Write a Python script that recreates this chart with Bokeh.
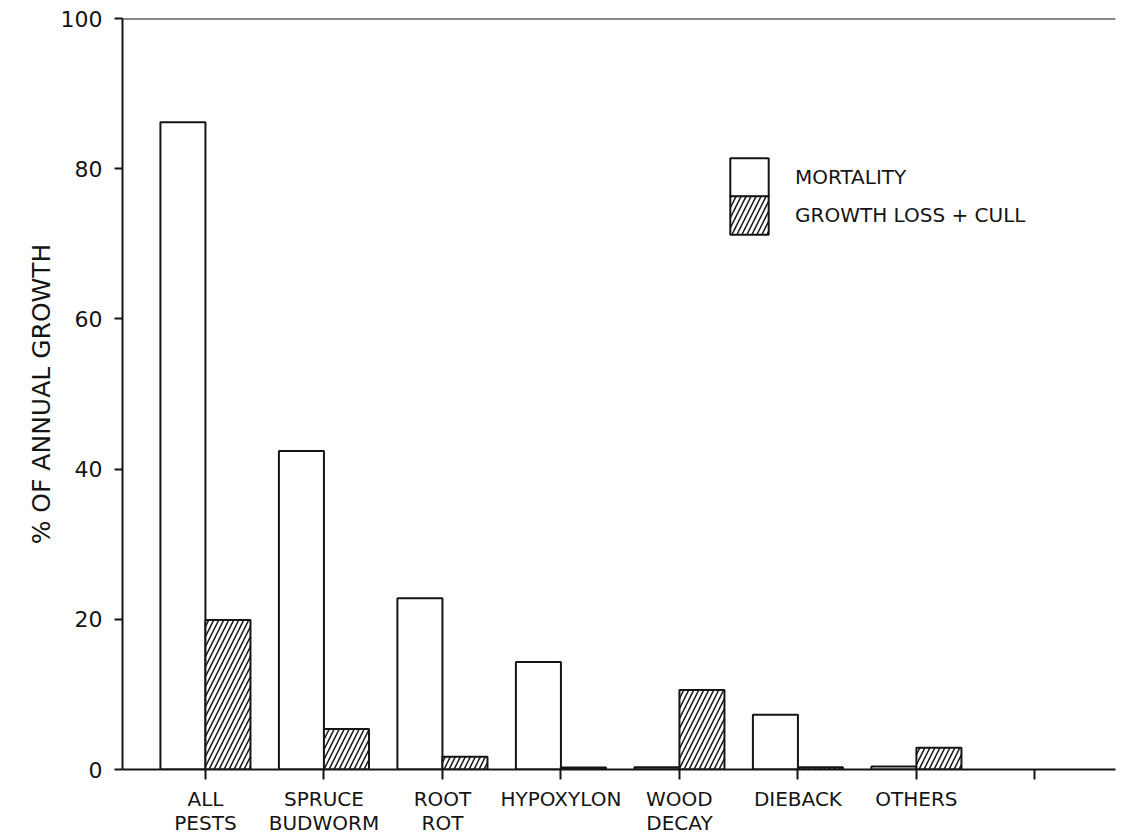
from bokeh.plotting import figure
from bokeh.models import (Range1d, FixedTicker, Span, Legend, LegendItem, ColumnDataSource)
from bokeh.transform import dodge
from bokeh.embed import file_html
from bokeh.resources import INLINE

categories = ["ALL\nPESTS", "SPRUCE\nBUDWORM", "ROOT\nROT", "HYPOXYLON", "WOOD\nDECAY", "DIEBACK", "OTHERS"]
mortality = [86.2, 42.4, 22.8, 14.3, 0.3, 7.3, 0.4]
growth_loss = [19.9, 5.4, 1.7, 0.25, 10.6, 0.3, 2.9]
y_ticks = [0, 20, 40, 60, 80, 100]
series_labels = ["MORTALITY", "GROWTH LOSS + CULL"]

FONT = "DejaVu Sans"
INK = "#151515"

src = ColumnDataSource(dict(x=list(range(len(categories))), cat=categories,
                            mort=mortality, grow=growth_loss))

p = figure(width=1122, height=837, x_range=Range1d(-0.70, 7.68), y_range=Range1d(0, 100),
           min_border_left=122, min_border_right=7, min_border_top=18, min_border_bottom=65,
           output_backend="svg", toolbar_location=None)
p.grid.visible = False
p.outline_line_color = None
p.background_fill_color = "white"

bw = 0.38
r1 = p.vbar(x=dodge("x", -bw / 2), top="mort", bottom=0, width=bw, source=src,
            fill_color="white", line_color=INK, line_width=2)
r2 = p.vbar(x=dodge("x", bw / 2), top="grow", bottom=0, width=bw, source=src,
            fill_color="white", line_color=INK, line_width=2,
            hatch_pattern="/", hatch_color=INK, hatch_scale=10, hatch_weight=1.5)

# x axis
xa = p.xaxis[0]
xa.ticker = FixedTicker(ticks=list(range(len(categories) + 1)))
overrides = {i: c for i, c in enumerate(categories)}
overrides[len(categories)] = ""
xa.major_label_overrides = overrides
xa.minor_tick_line_color = None
xa.major_tick_out = 10
xa.major_tick_in = 0
xa.major_tick_line_width = 2
xa.major_tick_line_color = INK
xa.axis_line_width = 2
xa.axis_line_color = INK
xa.major_label_standoff = 7
xa.major_label_text_font = FONT
xa.major_label_text_font_size = "20px"
xa.major_label_text_color = INK
xa.major_label_text_line_height = 1.0

# y axis
ya = p.yaxis[0]
ya.ticker = FixedTicker(ticks=y_ticks)
ya.minor_tick_line_color = None
ya.major_tick_out = 8
ya.major_tick_in = 0
ya.major_tick_line_width = 2
ya.major_tick_line_color = INK
ya.axis_line_width = 2
ya.axis_line_color = INK
ya.major_label_standoff = 12
ya.major_label_text_font = FONT
ya.major_label_text_font_size = "22px"
ya.major_label_text_color = INK
ya.axis_label = "% OF ANNUAL GROWTH"
ya.axis_label_text_font = FONT
ya.axis_label_text_font_size = "25px"
ya.axis_label_text_font_style = "normal"
ya.axis_label_text_color = INK
ya.axis_label_standoff = 2

# top frame line
p.add_layout(Span(location=100, dimension="width", line_color=INK, line_width=2))

for label, rend, ypos in [(series_labels[0], r1, 568), (series_labels[1], r2, 530)]:
    lg = Legend(items=[LegendItem(label=label, renderers=[rend])],
                location=(603, ypos), glyph_width=48, glyph_height=48, spacing=0,
                padding=0, margin=0, label_standoff=22, border_line_color=None,
                background_fill_alpha=0, label_text_font=FONT, label_text_font_size="20px",
                label_text_color=INK, label_height=48)
    p.add_layout(lg)

open("out.html", "w").write(file_html(p, INLINE))
